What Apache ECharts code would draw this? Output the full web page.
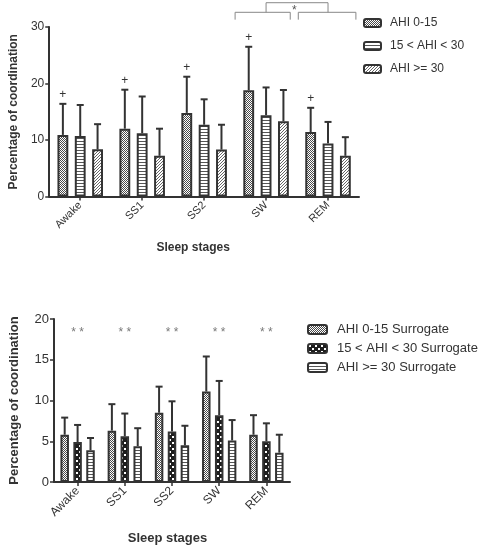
<!DOCTYPE html>
<html>
<head>
<meta charset="utf-8">
<script src="https://cdn.jsdelivr.net/npm/echarts@6/dist/echarts.min.js"></script>
<style>html,body{margin:0;padding:0;background:#fff;}#c{width:483px;height:547px;}</style>
</head>
<body>
<div id="c"></div>
<script>
// ---------- data ----------
const categories = ['Awake', 'SS1', 'SS2', 'SW', 'REM'];

const topNames = ['AHI 0-15', '15 < AHI < 30', 'AHI >= 30'];
const topMean1 = [10.9, 12.0, 14.8, 18.8, 11.4];
const topUpper1 = [16.4, 18.9, 21.2, 26.5, 15.7];
const topMean2 = [10.7, 11.2, 12.7, 14.4, 9.4];
const topUpper2 = [16.2, 17.7, 17.2, 19.3, 13.2];
const topMean3 = [8.35, 7.2, 8.3, 13.3, 7.2];
const topUpper3 = [12.8, 12.0, 12.7, 18.85, 10.5];
const topTicks = [0, 10, 20, 30];

const botNames = ['AHI 0-15 Surrogate', '15 < AHI < 30 Surrogate', 'AHI >= 30 Surrogate'];
const botMean1 = [5.8, 6.3, 8.5, 11.1, 5.8];
const botUpper1 = [7.9, 9.55, 11.7, 15.4, 8.2];
const botMean2 = [4.9, 5.6, 6.2, 8.2, 5.0];
const botUpper2 = [7.0, 8.4, 9.9, 12.4, 7.2];
const botMean3 = [3.9, 4.4, 4.5, 5.1, 3.6];
const botUpper3 = [5.4, 6.6, 6.9, 7.6, 5.8];
const botStars = [18.3, 18.3, 18.3, 18.3, 18.3];
const botTicks = [0, 5, 10, 15, 20];

// ---------- patterns ----------
function tile(w, h, draw) {
  const c = document.createElement('canvas');
  c.width = w; c.height = h;
  const g = c.getContext('2d');
  g.fillStyle = '#fff'; g.fillRect(0, 0, w, h);
  draw(g);
  return { image: c, repeat: 'repeat' };
}
const patFine = tile(2, 2, g => {
  g.fillStyle = '#4a4a4a';
  g.fillRect(0, 0, 1, 1); g.fillRect(1, 1, 1, 1);
});
const patHStripe = tile(3, 3, g => { g.fillStyle = '#555'; g.fillRect(0, 0, 3, 1); });
const patDiag = tile(3, 3, g => {
  g.fillStyle = '#666';
  for (let i = 0; i < 3; i++) g.fillRect(i, 2 - i, 1, 1);
});
const patCoarse = tile(6, 6, g => {
  g.fillStyle = '#1e1e1e'; g.fillRect(0, 0, 6, 6);
  g.fillStyle = '#fff';
  g.fillRect(1, 1, 2, 2); g.fillRect(4, 4, 2, 2);
});

const FONT = "'Liberation Sans', Arial, sans-serif";
const DARK = '#333';

// ---------- bar layout params ----------
const TOP_BW = 0.175, TOP_GAP = 0.6;
const BOT_BW = 0.18, BOT_GAP = 0.52;

function errSeries(name, means, uppers, slot, bw, gap, xi, plus) {
  return {
    type: 'custom', name: name, xAxisIndex: xi, yAxisIndex: xi, z: 5,
    silent: true, clip: false,
    encode: { x: 0, y: 2 },
    data: means.map((m, i) => [i, m, uppers[i]]),
    renderItem: function (params, api) {
      const cat = api.value(0), mean = api.value(1), up = api.value(2);
      const band = api.size([1, 0])[0];
      const w = band * bw;
      const total = 3 * w + 2 * w * gap;
      const cx = api.coord([cat, 0])[0] - total / 2 + w / 2 + slot * w * (1 + gap);
      const p0 = api.coord([cat, mean]), p1 = api.coord([cat, up]);
      const cap = 3.5;
      const ch = [
        { type: 'line', shape: { x1: cx, y1: p0[1], x2: cx, y2: p1[1] }, style: { stroke: DARK, lineWidth: 2 } },
        { type: 'line', shape: { x1: cx - cap, y1: p1[1], x2: cx + cap, y2: p1[1] }, style: { stroke: DARK, lineWidth: 2 } }
      ];
      if (plus) {
        ch.push({ type: 'text', style: { text: '+', x: cx, y: p1[1] - 3, align: 'center', verticalAlign: 'bottom', font: '12px ' + FONT, fill: DARK } });
      }
      return { type: 'group', children: ch };
    }
  };
}

function barSeries(name, data, pat, xi, bw, gap) {
  return {
    type: 'bar', name: name, xAxisIndex: xi, yAxisIndex: xi, data: data,
    barWidth: (bw * 100) + '%', barGap: (gap * 100) + '%',
    itemStyle: { color: pat, borderColor: DARK, borderWidth: 2 },
    emphasis: { disabled: true }
  };
}

const bracketSeries = {
  type: 'custom', xAxisIndex: 0, yAxisIndex: 0, clip: false, silent: true, z: 6,
  data: [[3, 4]],
  encode: { x: 0 },
  renderItem: function (params, api) {
    const a = api.value(0), b = api.value(1);
    const band = api.size([1, 0])[0];
    const xa = api.coord([a, 0])[0], xb = api.coord([b, 0])[0];
    const yLow = api.coord([a, 31.3])[1], yMid = api.coord([a, 32.6])[1], yHigh = api.coord([a, 34.3])[1];
    const st = { stroke: '#888', lineWidth: 1, fill: null };
    const lA = xa - 0.5 * band, rA = xa + 0.39 * band;
    const lB = xb - 0.48 * band, rB = xb + 0.45 * band;
    return {
      type: 'group', children: [
        { type: 'polyline', shape: { points: [[lA, yLow], [lA, yMid], [rA, yMid], [rA, yLow]] }, style: st },
        { type: 'polyline', shape: { points: [[lB, yLow], [lB, yMid], [rB, yMid], [rB, yLow]] }, style: st },
        { type: 'polyline', shape: { points: [[xa, yMid], [xa, yHigh], [xb, yHigh], [xb, yMid]] }, style: st },
        { type: 'text', style: { text: '*', x: (rA + lB) / 2, y: (yHigh + yMid) / 2 + 3, align: 'center', verticalAlign: 'middle', font: '12px ' + FONT, fill: '#555' } }
      ]
    };
  }
};

function axisCommon(fs) {
  return {
    axisLine: { show: true, lineStyle: { color: DARK, width: 2 } },
    axisTick: { show: true, length: 4, lineStyle: { color: DARK, width: 1.5 } },
    axisLabel: { color: DARK, fontSize: fs, fontFamily: FONT },
    splitLine: { show: false }
  };
}

const chart = echarts.init(document.getElementById('c'), null, { renderer: 'canvas' });
chart.setOption({
  animation: false,
  backgroundColor: '#fff',
  grid: [
    { left: 46, top: 27, width: 313, height: 169.5 },
    { left: 47, top: 319, width: 243, height: 163 }
  ],
  legend: [
    {
      data: topNames, orient: 'vertical', left: 363, top: 17, padding: 0, itemWidth: 17, itemHeight: 8, itemGap: 11,
      textStyle: { fontSize: 12, fontFamily: FONT, color: DARK, padding: [0, 0, 0, 4] },
      selectedMode: false, itemStyle: { borderColor: DARK, borderWidth: 2 }
    },
    {
      data: botNames, orient: 'vertical', left: 307, top: 323, padding: 0, itemWidth: 19, itemHeight: 9, itemGap: 6,
      textStyle: { fontSize: 13, fontFamily: FONT, color: DARK, padding: [0, 0, 0, 5] },
      selectedMode: false, itemStyle: { borderColor: DARK, borderWidth: 2 }
    }
  ],
  xAxis: [
    Object.assign(axisCommon(11), {
      type: 'category', gridIndex: 0, data: categories,
      axisTick: { show: true, alignWithLabel: true, length: 4, lineStyle: { color: DARK, width: 1.5 } },
      axisLabel: { color: DARK, fontSize: 11, fontFamily: FONT, rotate: 45, margin: 7 },
      name: 'Sleep stages', nameLocation: 'middle', nameGap: 45,
      nameTextStyle: { fontSize: 12, fontWeight: 'bold', fontFamily: FONT, color: DARK, padding: [0, 22, 0, 0] }
    }),
    Object.assign(axisCommon(12), {
      type: 'category', gridIndex: 1, data: categories,
      axisTick: { show: true, alignWithLabel: true, length: 4, lineStyle: { color: DARK, width: 1.5 } },
      axisLabel: { color: DARK, fontSize: 12, fontFamily: FONT, rotate: 45, margin: 7 },
      name: 'Sleep stages', nameLocation: 'middle', nameGap: 50,
      nameTextStyle: { fontSize: 13, fontWeight: 'bold', fontFamily: FONT, color: DARK, padding: [0, 9, 0, 0] }
    })
  ],
  yAxis: [
    Object.assign(axisCommon(12), {
      type: 'value', gridIndex: 0, min: topTicks[0], max: topTicks[topTicks.length - 1], interval: topTicks[1] - topTicks[0],
      name: 'Percentage of coordination', nameLocation: 'middle', nameGap: 27,
      nameTextStyle: { fontSize: 12, fontWeight: 'bold', fontFamily: FONT, color: DARK },
      axisLabel: { color: DARK, fontSize: 12, fontFamily: FONT, margin: 5 }
    }),
    Object.assign(axisCommon(13), {
      type: 'value', gridIndex: 1, min: botTicks[0], max: botTicks[botTicks.length - 1], interval: botTicks[1] - botTicks[0],
      name: 'Percentage of coordination', nameLocation: 'middle', nameGap: 33,
      nameTextStyle: { fontSize: 13, fontWeight: 'bold', fontFamily: FONT, color: DARK },
      axisLabel: { color: DARK, fontSize: 13, fontFamily: FONT, margin: 5 }
    })
  ],
  series: [
    barSeries(topNames[0], topMean1, patFine, 0, TOP_BW, TOP_GAP),
    barSeries(topNames[1], topMean2, patHStripe, 0, TOP_BW, TOP_GAP),
    barSeries(topNames[2], topMean3, patDiag, 0, TOP_BW, TOP_GAP),
    errSeries('e1', topMean1, topUpper1, 0, TOP_BW, TOP_GAP, 0, true),
    errSeries('e2', topMean2, topUpper2, 1, TOP_BW, TOP_GAP, 0, false),
    errSeries('e3', topMean3, topUpper3, 2, TOP_BW, TOP_GAP, 0, false),
    bracketSeries,
    barSeries(botNames[0], botMean1, patFine, 1, BOT_BW, BOT_GAP),
    barSeries(botNames[1], botMean2, patCoarse, 1, BOT_BW, BOT_GAP),
    barSeries(botNames[2], botMean3, patHStripe, 1, BOT_BW, BOT_GAP),
    errSeries('f1', botMean1, botUpper1, 0, BOT_BW, BOT_GAP, 1, false),
    errSeries('f2', botMean2, botUpper2, 1, BOT_BW, BOT_GAP, 1, false),
    errSeries('f3', botMean3, botUpper3, 2, BOT_BW, BOT_GAP, 1, false),
    {
      type: 'scatter', xAxisIndex: 1, yAxisIndex: 1, data: botStars, symbolSize: 0, silent: true,
      label: { show: true, position: 'inside', formatter: '* *', fontSize: 12, fontFamily: FONT, color: '#555' }
    }
  ]
});
</script>
</body>
</html>
